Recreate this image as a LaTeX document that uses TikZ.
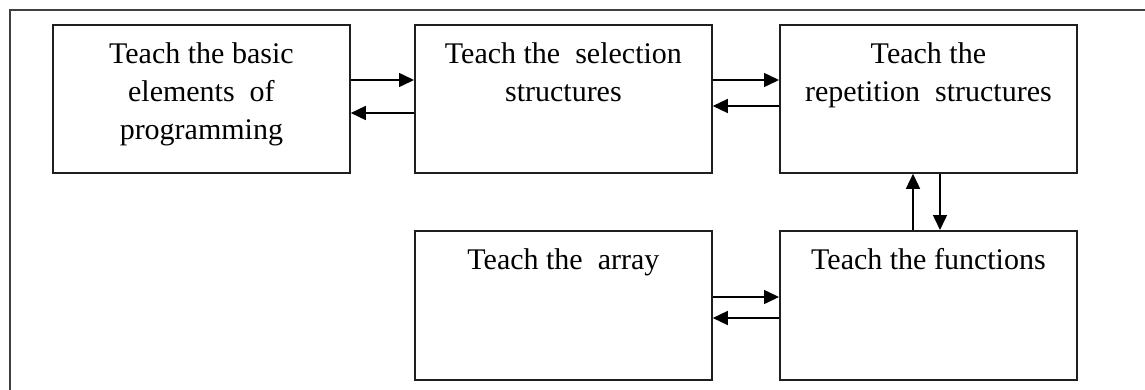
\documentclass[tikz,border=0pt]{standalone}
\usepackage{fontspec}
\setmainfont{Liberation Serif}
\usetikzlibrary{arrows.meta}
\begin{document}
\begin{tikzpicture}[x=1pt,y=-1pt,
  box/.style={draw=black!88,line width=1.8pt,rectangle,inner sep=0pt,
    minimum width=297pt,minimum height=148pt,anchor=north west},
  caption/.style={anchor=north,inner sep=0pt,align=center,
    font=\fontsize{30}{38}\selectfont},
  link/.style={line width=1.5pt,draw=black,-{Triangle[length=15pt,width=14pt]}},
  frame/.style={draw=black!75,line width=2pt}]
\useasboundingbox (0,0) rectangle (1145,389);
% open outer frame (top and left sides only)
\coordinate (fbl) at (10,392);
\coordinate (ftl) at (10,10);
\coordinate (ftr) at (1148,10);
\draw[frame] (fbl) -- (ftl) -- (ftr);
% boxes
\node[box] (b1) at (52,24) {};
\node[box] (b2) at (414,24) {};
\node[box] (b3) at (779,24) {};
\node[box,minimum height=149pt] (b4) at (414,230) {};
\node[box,minimum height=149pt] (b5) at (779,230) {};
% captions
\node[caption] (t1) at ([yshift=-18.5pt]b1.north) {Teach the basic\\elements\ \ of\\programming};
\node[caption] (t2) at ([yshift=-18.5pt]b2.north) {Teach the\ \ selection\\structures};
\node[caption] (t3) at ([yshift=-18.5pt]b3.north) {Teach the\\repetition\ \ structures};
\node[caption] (t4) at ([yshift=-18.5pt]b4.north) {Teach the\ \ array};
\node[caption] (t5) at ([yshift=-18.5pt]b5.north) {Teach the functions};
% connectors
\draw[link] ([yshift=-56pt]b1.north east) -- ([yshift=-56pt]b2.north west);
\draw[link] ([yshift=-89pt]b2.north west) -- ([yshift=-89pt]b1.north east);
\draw[link] ([yshift=-56pt]b2.north east) -- ([yshift=-56pt]b3.north west);
\draw[link] ([yshift=-82pt]b3.north west) -- ([yshift=-82pt]b2.north east);
\draw[link] ([xshift=134pt]b5.north west) -- ([xshift=134pt]b3.south west);
\draw[link] ([xshift=161pt]b3.south west) -- ([xshift=161pt]b5.north west);
\draw[link] ([yshift=-67pt]b4.north east) -- ([yshift=-67pt]b5.north west);
\draw[link] ([yshift=-88pt]b5.north west) -- ([yshift=-88pt]b4.north east);
\end{tikzpicture}
\end{document}
